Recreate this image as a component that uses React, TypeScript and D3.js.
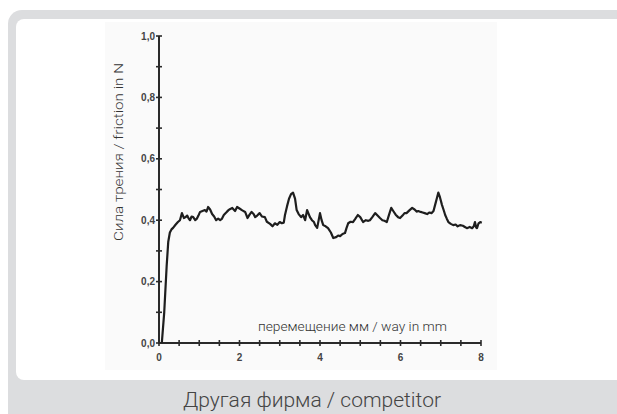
import React from "react";
import * as d3 from "d3";

const wayMm = [0.07, 0.13, 0.19, 0.23, 0.27, 0.31, 0.35, 0.41, 0.47, 0.52, 0.57, 0.62, 0.66, 0.7, 0.74, 0.77, 0.81, 0.85, 0.9, 0.94, 0.98, 1.02, 1.08, 1.14, 1.18, 1.22, 1.27, 1.32, 1.37, 1.42, 1.47, 1.52, 1.56, 1.61, 1.67, 1.72, 1.76, 1.82, 1.89, 1.94, 2.0, 2.07, 2.14, 2.2, 2.25, 2.3, 2.35, 2.39, 2.44, 2.5, 2.56, 2.63, 2.68, 2.76, 2.82, 2.88, 2.94, 3.0, 3.05, 3.1, 3.13, 3.18, 3.23, 3.28, 3.33, 3.38, 3.42, 3.47, 3.53, 3.58, 3.63, 3.68, 3.75, 3.8, 3.85, 3.88, 3.93, 4.0, 4.04, 4.08, 4.14, 4.2, 4.27, 4.33, 4.4, 4.45, 4.5, 4.56, 4.62, 4.66, 4.7, 4.76, 4.82, 4.88, 4.94, 5.0, 5.07, 5.14, 5.2, 5.24, 5.3, 5.37, 5.43, 5.49, 5.55, 5.6, 5.66, 5.72, 5.77, 5.82, 5.88, 5.94, 5.99, 6.05, 6.1, 6.15, 6.22, 6.29, 6.35, 6.4, 6.44, 6.5, 6.55, 6.6, 6.66, 6.72, 6.77, 6.82, 6.86, 6.91, 6.94, 6.98, 7.03, 7.08, 7.11, 7.15, 7.19, 7.25, 7.31, 7.37, 7.42, 7.48, 7.55, 7.6, 7.65, 7.72, 7.78, 7.82, 7.85, 7.88, 7.9, 7.94, 7.98, 8.02];
const frictionN = [0.0, 0.1, 0.25, 0.33, 0.36, 0.37, 0.375, 0.385, 0.394, 0.4, 0.423, 0.407, 0.41, 0.415, 0.405, 0.4, 0.412, 0.41, 0.4, 0.405, 0.415, 0.427, 0.43, 0.433, 0.428, 0.443, 0.435, 0.42, 0.412, 0.4, 0.405, 0.4, 0.404, 0.417, 0.425, 0.432, 0.436, 0.44, 0.43, 0.443, 0.438, 0.432, 0.427, 0.407, 0.418, 0.427, 0.42, 0.41, 0.415, 0.423, 0.412, 0.41, 0.395, 0.388, 0.38, 0.39, 0.385, 0.394, 0.39, 0.392, 0.417, 0.445, 0.47, 0.485, 0.49, 0.47, 0.433, 0.42, 0.41, 0.417, 0.4, 0.433, 0.41, 0.4, 0.394, 0.384, 0.375, 0.423, 0.4, 0.384, 0.38, 0.374, 0.36, 0.342, 0.345, 0.35, 0.348, 0.355, 0.358, 0.375, 0.39, 0.395, 0.394, 0.405, 0.417, 0.41, 0.394, 0.4, 0.398, 0.4, 0.41, 0.423, 0.415, 0.407, 0.4, 0.398, 0.394, 0.42, 0.44, 0.43, 0.418, 0.41, 0.407, 0.415, 0.423, 0.423, 0.432, 0.44, 0.435, 0.428, 0.43, 0.427, 0.425, 0.423, 0.42, 0.425, 0.423, 0.43, 0.45, 0.475, 0.49, 0.475, 0.45, 0.43, 0.417, 0.405, 0.394, 0.388, 0.384, 0.386, 0.38, 0.384, 0.382, 0.378, 0.374, 0.378, 0.374, 0.38, 0.394, 0.376, 0.374, 0.39, 0.394, 0.392];

const xTickLabels = ["0", "2", "4", "6", "8"];
const yTickLabels = ["0,0", "0,2", "0,4", "0,6", "0,8", "1,0"];
const xTickVals = d3.range(0, 8.01, 0.5);
const yTickVals = d3.range(0, 1.001, 0.1);

const yAxisTitle = "Сила трения / friction in N";
const xAxisTitle = "перемещение мм / way in mm";
const caption = "Другая фирма / competitor";

export default function App() {
  const x = d3.scaleLinear().domain([0, 8]).range([159, 481]);
  const y = d3.scaleLinear().domain([0, 1]).range([343, 36]);
  const line = d3
    .line<number>()
    .x((_, i) => x(wayMm[i]))
    .y((d) => y(d))
    .curve(d3.curveLinear);

  const font = "Roboto, 'Liberation Sans', sans-serif";
  const tickFont = "'Liberation Sans', Arial, sans-serif";

  return (
    <svg
      width={617}
      height={414}
      style={{ position: "absolute", left: 0, top: 0, background: "#ffffff" }}
    >
      <rect x={8} y={10} width={640} height={430} rx={14} fill="#dcdddf" />
      <rect x={16} y={19} width={620} height={361} rx={8} fill="#ffffff" />
      <rect x={105} y={22} width={392} height={348} fill="#fafafa" />

      {/* axes */}
      <line x1={x(0)} x2={x(0)} y1={y(0) + 1} y2={y(1)} stroke="#2a2a2a" strokeWidth={2} />
      <line x1={x(0) - 1} x2={x(8)} y1={y(0)} y2={y(0)} stroke="#2a2a2a" strokeWidth={2} />
      {yTickVals.map((v, i) => (
        <line
          key={"yt" + i}
          x1={x(0) - 3}
          x2={x(0) + 3}
          y1={y(v)}
          y2={y(v)}
          stroke="#2a2a2a"
          strokeWidth={1.6}
        />
      ))}
      {xTickVals.map((v, i) => (
        <line
          key={"xt" + i}
          x1={x(v)}
          x2={x(v)}
          y1={y(0) - 3}
          y2={y(0) + 3}
          stroke="#2a2a2a"
          strokeWidth={1.6}
        />
      ))}
      {yTickLabels.map((t, i) => (
        <text
          key={"yl" + i}
          x={x(0) - 4}
          y={y(i * 0.2) + 3.5}
          textAnchor="end"
          fontFamily={tickFont}
          fontWeight="bold"
          fontSize={10}
          fill="#444"
        >
          {t}
        </text>
      ))}
      {xTickLabels.map((t, i) => (
        <text
          key={"xl" + i}
          x={x(i * 2)}
          y={y(0) + 18}
          textAnchor="middle"
          fontFamily={tickFont}
          fontWeight="bold"
          fontSize={10}
          fill="#444"
        >
          {t}
        </text>
      ))}

      <path d={line(frictionN) || ""} fill="none" stroke="#1e1e1e" strokeWidth={2.2} strokeLinejoin="round" />

      <text
        transform={`translate(123,152) rotate(-90)`}
        textAnchor="middle"
        fontFamily={font}
        fontWeight={300}
        fontSize={13}
        fill="#333"
        textLength={178}
        lengthAdjust="spacingAndGlyphs"
      >
        {yAxisTitle}
      </text>
      <text
        x={258}
        y={331}
        fontFamily={font}
        fontWeight={300}
        fontSize={13}
        fill="#333"
        textLength={189}
        lengthAdjust="spacingAndGlyphs"
      >
        {xAxisTitle}
      </text>
      <text
        x={312}
        y={407}
        textAnchor="middle"
        fontFamily={font}
        fontWeight={300}
        fontSize={20}
        fill="#444"
        textLength={258}
        lengthAdjust="spacingAndGlyphs"
      >
        {caption}
      </text>
    </svg>
  );
}
